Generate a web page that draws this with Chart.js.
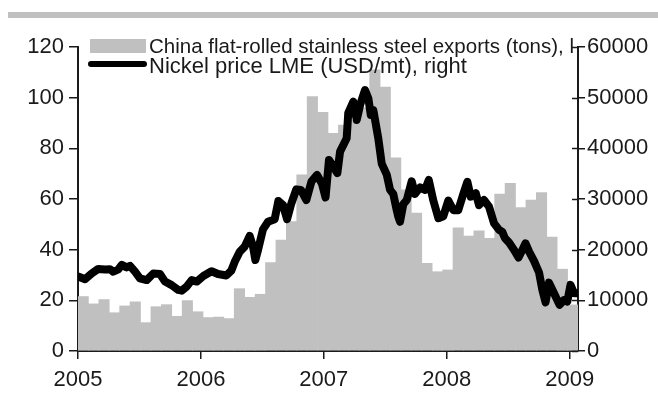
<!DOCTYPE html>
<html>
<head>
<meta charset="utf-8">
<script src="https://cdn.jsdelivr.net/npm/chart.js@4.4.1/dist/chart.umd.min.js"></script>
<style>
  html, body { margin: 0; padding: 0; background: #ffffff; }
  #wrap { width: 658px; height: 394px; position: relative; }
</style>
</head>
<body>
<div id="wrap"><canvas id="c" width="658" height="394"></canvas></div>
<script>
// Monthly export categories, Jan 2005 .. Dec 2008
const months = [
  '2005-01','2005-02','2005-03','2005-04','2005-05','2005-06','2005-07','2005-08','2005-09','2005-10','2005-11','2005-12',
  '2006-01','2006-02','2006-03','2006-04','2006-05','2006-06','2006-07','2006-08','2006-09','2006-10','2006-11','2006-12',
  '2007-01','2007-02','2007-03','2007-04','2007-05','2007-06','2007-07','2007-08','2007-09','2007-10','2007-11','2007-12',
  '2008-01','2008-02','2008-03','2008-04','2008-05','2008-06','2008-07','2008-08','2008-09','2008-10','2008-11','2008-12'
];

// China flat-rolled stainless steel exports (left axis)
const exportsTons = [
  21.5, 18.6, 20.3, 15.1, 17.8, 19.4, 11.2, 17.5, 18.3, 13.7, 19.9, 15.5,
  13.2, 13.4, 12.8, 24.6, 21.2, 22.4, 34.9, 43.8, 51.1, 69.5, 100.4, 94.2,
  85.9, 89.2, 91.0, 96.0, 111.0, 104.2, 76.3, 63.6, 54.4, 34.6, 31.3, 32.0,
  48.6, 45.4, 47.4, 44.5, 61.9, 66.2, 56.6, 59.6, 62.5, 45.0, 32.3, 18.2
];

// Nickel price LME, USD/mt (right axis), dated as fractional years
const nickelDate = [
  2005.002, 2005.057, 2005.111, 2005.165, 2005.220, 2005.260, 2005.287, 2005.328, 2005.356, 2005.396,
  2005.423, 2005.464, 2005.504, 2005.559, 2005.613, 2005.667, 2005.708, 2005.762, 2005.816, 2005.844,
  2005.884, 2005.925, 2005.966, 2006.020, 2006.086, 2006.139, 2006.207, 2006.247, 2006.275, 2006.316,
  2006.356, 2006.397, 2006.424, 2006.443, 2006.465, 2006.505, 2006.546, 2006.600, 2006.630, 2006.668,
  2006.701, 2006.736, 2006.776, 2006.814, 2006.858, 2006.900, 2006.945, 2006.985, 2007.014, 2007.042,
  2007.075, 2007.110, 2007.132, 2007.186, 2007.199, 2007.240, 2007.268, 2007.295, 2007.335, 2007.362,
  2007.382, 2007.403, 2007.443, 2007.471, 2007.512, 2007.539, 2007.565, 2007.593, 2007.606, 2007.620,
  2007.647, 2007.675, 2007.715, 2007.742, 2007.783, 2007.823, 2007.854, 2007.891, 2007.932, 2007.972,
  2008.013, 2008.054, 2008.094, 2008.135, 2008.168, 2008.195, 2008.236, 2008.263, 2008.303, 2008.344,
  2008.385, 2008.426, 2008.452, 2008.474, 2008.507, 2008.548, 2008.584, 2008.615, 2008.641, 2008.670,
  2008.710, 2008.751, 2008.778, 2008.804, 2008.832, 2008.873, 2008.918, 2008.954, 2008.981, 2009.007,
  2009.036, 2009.064
];
const nickelPrice = [
  14700, 14150, 15300, 16200, 16100, 16150, 15650, 16100, 17000, 16500,
  16800, 15650, 14350, 14000, 15300, 15200, 13700, 13000, 12050, 11900,
  12700, 14000, 13700, 14800, 15750, 15200, 14900, 15850, 17600, 19600,
  20600, 22700, 20600, 17950, 19950, 24000, 25500, 26000, 29600, 28800,
  26000, 29150, 31900, 31800, 29800, 33500, 34750, 33000, 30300, 37700,
  36500, 35100, 39350, 42000, 47000, 49200, 45600, 48550, 51500, 49900,
  46600, 47550, 42000, 37000, 34800, 31800, 31000, 27800, 26500, 25500,
  29000, 29800, 33500, 31000, 32300, 31800, 33750, 29700, 26200, 26600,
  29700, 27800, 27800, 31000, 33400, 30450, 31150, 28800, 29800, 28500,
  25200, 23900, 23500, 22250, 21400, 19950, 18450, 19950, 21250, 19600,
  17800, 15500, 12050, 9600, 13500, 11400, 9100, 10050, 9750, 13050,
  11400, 11400
];

// Axis ticks
const yearTicks = [2005, 2006, 2007, 2008, 2009];
const leftTicks = [0, 20, 40, 60, 80, 100, 120];
const rightTicks = [0, 10000, 20000, 30000, 40000, 50000, 60000];

const legendLabels = [
  'China flat-rolled stainless steel exports (tons), left',
  'Nickel price LME (USD/mt), right'
];

const FONT = 'Liberation Sans, Arial, sans-serif';
const INK = '#1a1a1a';
const BAR_GREY = '#c0c0c0';

const nickelPoints = nickelDate.map((d, i) => ({ x: d, y: nickelPrice[i] }));

// Decorations: top rule, inner halves of right-axis ticks, legend
const decor = {
  id: 'decor',
  beforeDraw(chart) {
    const ctx = chart.ctx;
    ctx.save();
    ctx.fillStyle = BAR_GREY;
    ctx.fillRect(8, 12, 650, 6);
    ctx.restore();
  },
  afterDatasetsDraw(chart) {
    const ctx = chart.ctx;
    const area = chart.chartArea;
    const y2 = chart.scales.y2;
    ctx.save();
    // right axis ticks cross the axis line
    ctx.strokeStyle = INK;
    ctx.lineWidth = 1.5;
    rightTicks.forEach(v => {
      const py = Math.round(y2.getPixelForValue(v)) + 0.5;
      ctx.beginPath();
      ctx.moveTo(area.right - 6, py);
      ctx.lineTo(area.right, py);
      ctx.stroke();
    });

    // legend
    ctx.textBaseline = 'middle';
    ctx.textAlign = 'left';
    ctx.fillStyle = BAR_GREY;
    ctx.fillRect(90, 39, 56, 14);
    ctx.save();
    ctx.beginPath();
    ctx.rect(0, 0, area.right - 3, 394);
    ctx.clip();
    ctx.font = '20.5px ' + FONT;
    ctx.fillStyle = INK;
    ctx.fillText(legendLabels[0], 149, 47);
    ctx.restore();

    ctx.strokeStyle = '#000000';
    ctx.lineWidth = 6;
    ctx.lineCap = 'round';
    ctx.beginPath();
    ctx.moveTo(91, 64);
    ctx.lineTo(144, 64);
    ctx.stroke();
    ctx.font = '22px ' + FONT;
    ctx.fillStyle = INK;
    ctx.fillText(legendLabels[1], 149, 67);
    ctx.restore();
  }
};

new Chart(document.getElementById('c'), {
  data: {
    labels: months,
    datasets: [
      {
        type: 'line',
        label: legendLabels[1],
        data: nickelPoints,
        xAxisID: 'x',
        yAxisID: 'y2',
        borderColor: '#000000',
        borderWidth: 8,
        borderJoinStyle: 'round',
        borderCapStyle: 'round',
        pointRadius: 0,
        tension: 0,
        order: 1
      },
      {
        type: 'bar',
        label: legendLabels[0],
        data: exportsTons,
        xAxisID: 'xm',
        yAxisID: 'y',
        backgroundColor: BAR_GREY,
        borderWidth: 0,
        grouped: false,
        barPercentage: 1,
        categoryPercentage: 1,
        order: 2
      }
    ]
  },
  options: {
    responsive: false,
    animation: false,
    events: [],
    datasets: { bar: { barPercentage: 1, categoryPercentage: 1, grouped: false } },
    layout: { padding: { top: 47, left: 0, right: 0, bottom: 0 } },
    plugins: { legend: { display: false }, tooltip: { enabled: false } },
    scales: {
      xm: {
        type: 'category',
        position: 'bottom',
        display: false,
        offset: true,
        grid: { display: false, offset: true }
      },
      x: {
        type: 'linear',
        position: 'bottom',
        min: 2005,
        max: 2009.068,
        afterBuildTicks(scale) { scale.ticks = yearTicks.map(v => ({ value: v })); },
        afterFit(scale) { scale.height = 43; },
        ticks: {
          callback: v => String(v),
          font: { family: FONT, size: 22 },
          color: INK,
          padding: 8,
          maxRotation: 0,
          autoSkip: false
        },
        grid: { display: true, drawOnChartArea: false, drawTicks: true, tickLength: 8, color: INK, lineWidth: 1.5 },
        border: { display: true, color: INK, width: 2 }
      },
      y: {
        type: 'linear',
        position: 'left',
        min: 0,
        max: 120,
        afterBuildTicks(scale) { scale.ticks = leftTicks.map(v => ({ value: v })); },
        afterFit(scale) { scale.width = 78; },
        ticks: {
          callback: v => String(v),
          font: { family: FONT, size: 22 },
          color: INK,
          padding: 5
        },
        grid: { display: true, drawOnChartArea: false, drawTicks: true, tickLength: 9, color: INK, lineWidth: 1.5 },
        border: { display: true, color: INK, width: 2 }
      },
      y2: {
        type: 'linear',
        position: 'right',
        min: 0,
        max: 60000,
        afterBuildTicks(scale) { scale.ticks = rightTicks.map(v => ({ value: v })); },
        afterFit(scale) { scale.width = 80; },
        ticks: {
          callback: v => String(v),
          font: { family: FONT, size: 22 },
          color: INK,
          padding: 2
        },
        grid: { display: true, drawOnChartArea: false, drawTicks: true, tickLength: 7, color: INK, lineWidth: 1.5 },
        border: { display: true, color: INK, width: 2 }
      }
    }
  },
  plugins: [decor]
});
</script>
</body>
</html>
